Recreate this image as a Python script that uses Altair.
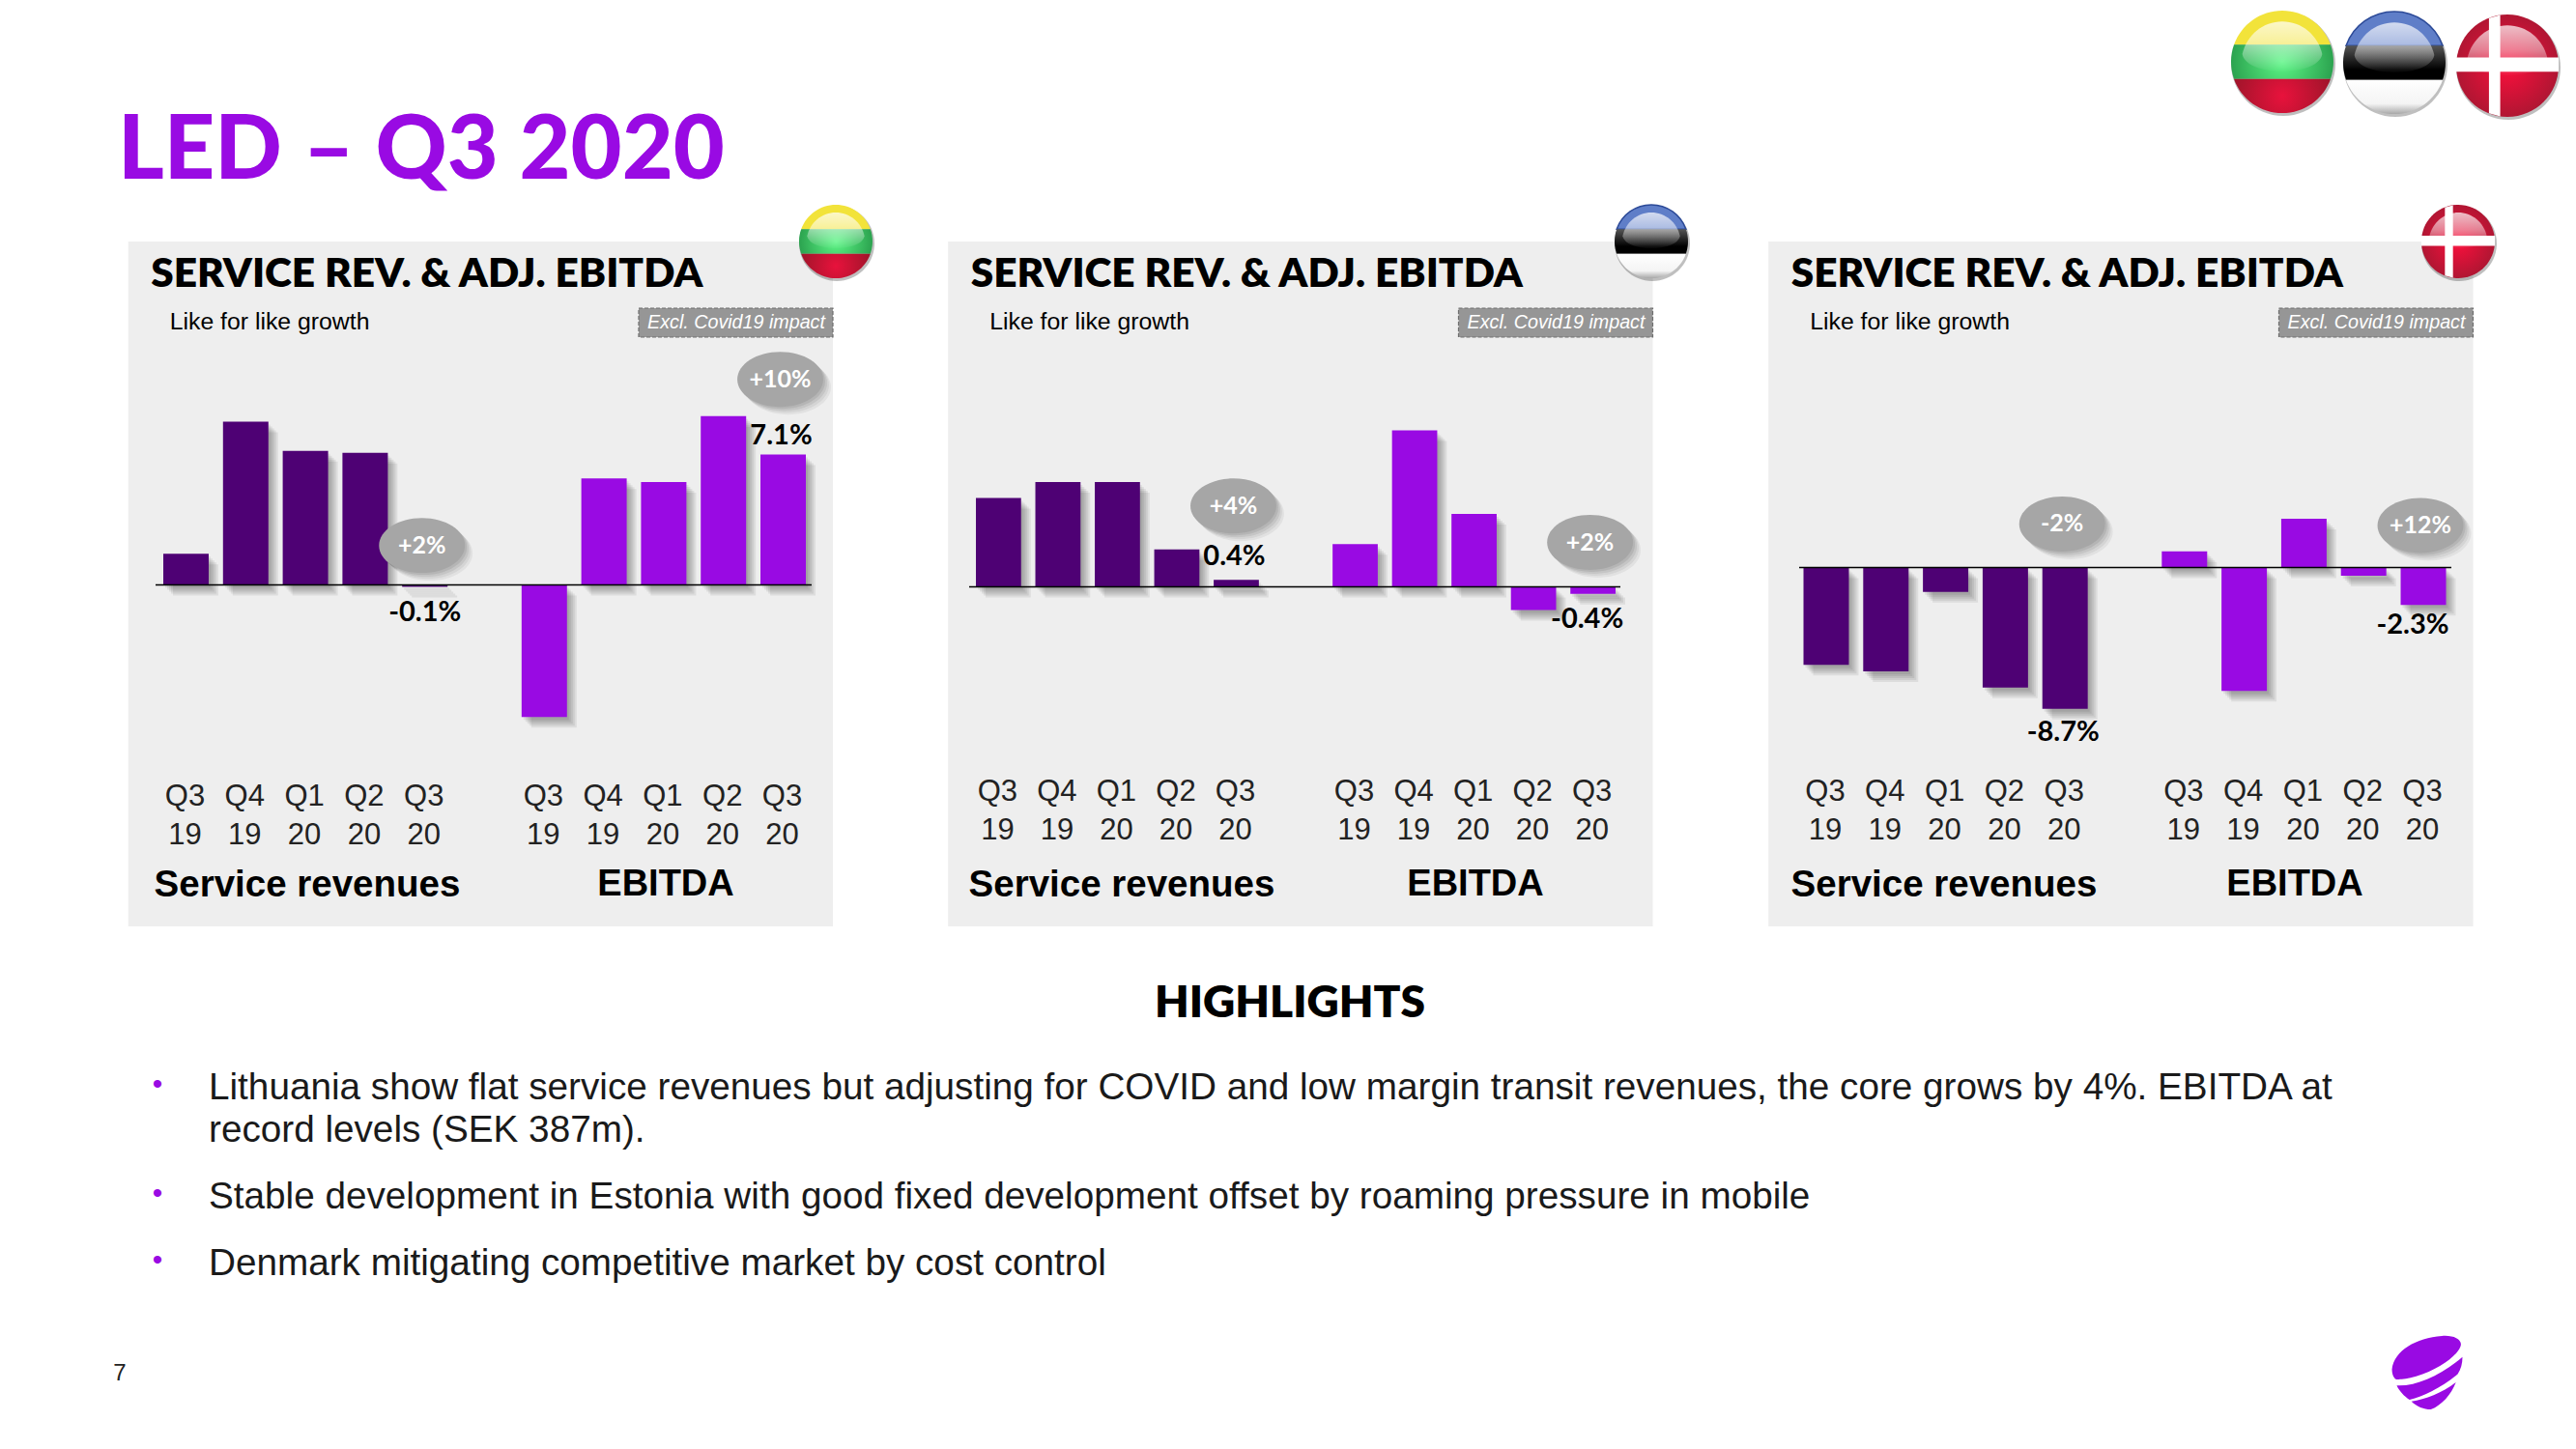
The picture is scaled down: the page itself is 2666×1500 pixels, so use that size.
import altair as alt
import pandas as pd

# ---------- data ----------
quarters = ["Q3", "Q4", "Q1", "Q2", "Q3"]
years = ["19", "19", "20", "20", "20"]
sr_slots = ["SR0", "SR1", "SR2", "SR3", "SR4"]
eb_slots = ["EB0", "EB1", "EB2", "EB3", "EB4"]
slots = sr_slots + ["gap"] + eb_slots

lt_service = [1.7, 8.9, 7.3, 7.2, -0.1]
lt_ebitda = [-7.2, 5.8, 5.6, 9.2, 7.1]
ee_service = [5.0, 5.9, 5.9, 2.1, 0.4]
ee_ebitda = [2.4, 8.8, 4.1, -1.3, -0.4]
dk_service = [-6.0, -6.4, -1.5, -7.4, -8.7]
dk_ebitda = [1.0, -7.6, 3.0, -0.5, -2.3]

lt_labels = ["-0.1%", "7.1%"]
ee_labels = ["0.4%", "-0.4%"]
dk_labels = ["-8.7%", "-2.3%"]
lt_label_levels = [-1.5, 8.15]
ee_label_levels = [1.7, -1.8]
dk_label_levels = [-10.15, -3.55]

lt_growth = ["+2%", "+10%"]
ee_growth = ["+4%", "+2%"]
dk_growth = ["-2%", "+12%"]
lt_growth_levels = [2.15, 11.2]
ee_growth_levels = [4.55, 2.5]
dk_growth_levels = [2.68, 2.59]

highlights = [
    "Lithuania show flat service revenues but adjusting for COVID and low margin transit revenues, the core grows by 4%. EBITDA at",
    "record levels (SEK 387m).",
    "Stable development in Estonia with good fixed development offset by roaming pressure in mobile",
    "Denmark mitigating competitive market by cost control",
]

# ---------- style ----------
PURPLE = "#990ae3"
DARK = "#4e0174"
PANEL = "#eeeeee"
HEAD = "Lato"
BODY = "Liberation Sans"


def px(v):
    return v - 8


layers = []


def note(text, x, y, size, font=BODY, weight="normal", color="#000000", align="left", style="normal"):
    layers.append(
        alt.Chart(pd.DataFrame({"t": [text]}))
        .mark_text(fontSize=size, font=font, fontWeight=weight, color=color, align=align,
                   baseline="middle", fontStyle=style)
        .encode(text="t:N", x=alt.value(px(x)), y=alt.value(px(y)))
    )


def shape(path, x, y, d, fill, stroke=None, sw=0):
    kw = dict(shape=path, size=d * d, fill=fill, filled=True, opacity=1, strokeWidth=sw)
    kw["stroke"] = stroke if stroke else "transparent"
    layers.append(
        alt.Chart(pd.DataFrame({"k": [0]})).mark_point(**kw)
        .encode(x=alt.value(px(x)), y=alt.value(px(y)))
    )


def lin(*stops):
    return {"gradient": "linear", "x1": 0, "y1": 0, "x2": 0, "y2": 1,
            "stops": [{"offset": o, "color": c} for o, c in stops]}


def rad(*stops):
    return {"gradient": "radial", "x1": 0.5, "y1": 0.5, "r1": 0, "x2": 0.5, "y2": 0.5, "r2": 0.65,
            "stops": [{"offset": o, "color": c} for o, c in stops]}


CIRCLE = "M-1,0 A1,1 0 1 1 1,0 A1,1 0 1 1 -1,0 Z"
TOP = "M-0.943,-0.333 A1,1 0 0 1 0.943,-0.333 Z"
MID = "M-0.943,-0.333 L0.943,-0.333 A1,1 0 0 1 0.943,0.333 L-0.943,0.333 A1,1 0 0 1 -0.943,-0.333 Z"
BOT = "M-0.943,0.333 L0.943,0.333 A1,1 0 0 1 -0.943,0.333 Z"
GLOSS = "M-0.78,-0.15 A0.8,0.82 0 0 1 0.78,-0.15 C0.7,0.3 -0.7,0.3 -0.78,-0.15 Z"
CROSS_V = "M-0.36,-0.93 L-0.14,-0.99 L-0.14,0.99 L-0.36,0.93 Z"
CROSS_H = "M-1,-0.16 L1,-0.16 L1,0.12 L-1,0.12 Z"
SHEEN = lin((0, "rgba(255,255,255,0.72)"), (0.5, "rgba(255,255,255,0.45)"), (1, "rgba(255,255,255,0.02)"))


def flag(country, x, y, d):
    shape(CIRCLE, x + 1, y + 2, d + 2, "rgba(0,0,0,0.25)")
    if country == "LT":
        shape(TOP, x, y, d, "#f2e33a")
        shape(MID, x, y, d, rad((0, "#5cf585"), (1, "#1d8a3f")))
        shape(BOT, x, y, d, rad((0, "#e8123c"), (1, "#8e1526")))
    elif country == "EE":
        shape(TOP, x, y, d, "#5f7ec8", stroke="#2c4a98", sw=1.5)
        shape(MID, x, y, d, lin((0, "#555555"), (0.7, "#000000"), (1, "#000000")))
        shape(BOT, x, y, d, lin((0, "#ffffff"), (0.7, "#f4f4f4"), (1, "#a8a8a8")))
    else:
        shape(CIRCLE, x, y, d, rad((0, "#fb0f3c"), (1, "#9a1830")))
        shape(CROSS_V, x, y, d, "#ffffff")
        shape(CROSS_H, x, y, d, "#ffffff")
    shape(GLOSS, x, y, d, SHEEN)


def panel(x_off, bar_range, base, k, flag_at, service, ebitda, labels, label_levels, growth, growth_levels,
          axis_ends, country, q_y, sr_cx, eb_cx, label_dx):
    p_left, p_right = 132.7 + x_off, 862 + x_off
    # background
    layers.append(
        alt.Chart(pd.DataFrame({"k": [0]})).mark_rect(color=PANEL, opacity=1)
        .encode(x=alt.value(px(p_left)), x2=alt.value(px(p_right)), y=alt.value(px(250)), y2=alt.value(px(959)))
    )
    xs = alt.Scale(type="band", domain=slots, range=[px(bar_range[0]), px(bar_range[1])],
                   paddingInner=0.24, paddingOuter=0)
    ys = alt.Scale(domain=[-12, 12], range=[px(base + 12 * k), px(base - 12 * k)])
    X = alt.X("slot:N", scale=xs, axis=None)
    Y = alt.Y("value:Q", scale=ys, axis=None)
    df = pd.DataFrame({"slot": sr_slots + eb_slots, "value": service + ebitda,
                       "series": ["Service revenues"] * 5 + ["EBITDA"] * 5})
    for off in (2, 4, 6, 8, 10):
        layers.append(
            alt.Chart(df).mark_bar(color="#000000", opacity=0.07, xOffset=off, yOffset=off + 1)
            .encode(x=X, y=Y)
        )
    layers.append(
        alt.Chart(df).mark_bar(opacity=1)
        .encode(x=X, y=Y, color=alt.Color("series:N", legend=None,
                                          scale=alt.Scale(domain=["Service revenues", "EBITDA"], range=[DARK, PURPLE])))
    )
    # zero line
    layers.append(
        alt.Chart(pd.DataFrame({"value": [0]})).mark_rule(color="#000000", strokeWidth=1.3)
        .encode(y=Y, x=alt.value(px(axis_ends[0])), x2=alt.value(px(axis_ends[1])))
    )
    # growth bubbles
    bub = pd.DataFrame({"slot": ["SR4", "EB4"], "value": growth_levels, "t": growth})
    ELLIPSE = "M-1,0 A1,0.64 0 1 1 1,0 A1,0.64 0 1 1 -1,0 Z"
    for off, op in ((2, 0.08), (4, 0.07), (6, 0.06), (8, 0.05)):
        layers.append(
            alt.Chart(bub).mark_point(shape=ELLIPSE, size=7900, filled=True, color="#000000", opacity=op,
                                      xOffset=off - 3, yOffset=off)
            .encode(x=X, y=Y)
        )
    layers.append(
        alt.Chart(bub).mark_point(shape=ELLIPSE, size=7900, filled=True, color="#a6a6a6", opacity=1, xOffset=-3)
        .encode(x=X, y=Y)
    )
    layers.append(
        alt.Chart(bub).mark_text(font=HEAD, fontWeight="bold", fontSize=25, color="#ffffff", baseline="middle", dx=-3)
        .encode(x=X, y=Y, text="t:N")
    )
    # data labels
    for slot, lv, t, dx in zip(["SR4", "EB4"], label_levels, labels, label_dx):
        layers.append(
            alt.Chart(pd.DataFrame({"slot": [slot], "value": [lv], "t": [t]}))
            .mark_text(font=HEAD, fontWeight="bold", fontSize=29, color="#000000", baseline="middle", dx=dx)
            .encode(x=X, y=Y, text="t:N")
        )
    # tick labels
    ticks = pd.DataFrame({"slot": sr_slots + eb_slots, "q": quarters * 2, "yr": years * 2})
    for col, yy in (("q", q_y), ("yr", q_y + 40)):
        layers.append(
            alt.Chart(ticks).mark_text(font=BODY, fontSize=31, color="#222222", baseline="middle", dx=-1)
            .encode(x=X, text=f"{col}:N", y=alt.value(px(yy)))
        )
    # text
    note("SERVICE REV. & ADJ. EBITDA", p_left + 23.5, 283.5, 42.4, font=HEAD, weight=800)
    note("Like for like growth", p_left + 43, 334, 24.8)
    note("Service revenues", sr_cx, 916, 38.5, weight="bold", align="center")
    note("EBITDA", eb_cx, 916, 38, weight="bold", align="center")
    # covid box
    layers.append(
        alt.Chart(pd.DataFrame({"k": [0]}))
        .mark_rect(color="#969696", opacity=1, stroke="#6e6e6e", strokeDash=[4, 2], strokeWidth=1.2)
        .encode(x=alt.value(px(p_right - 201)), x2=alt.value(px(p_right)), y=alt.value(px(319)), y2=alt.value(px(349)))
    )
    note("Excl. Covid19 impact", p_right - 100, 334, 19.7, color="#ffffff", align="center", style="italic")
    flag(country, flag_at[0], flag_at[1], 76)


panel(0, (169, 834), 605.5, 19.0, (865, 250), lt_service, lt_ebitda, lt_labels, lt_label_levels, lt_growth,
      lt_growth_levels, (161, 840), "LT", 825, 318, 689, (0, -2))
panel(848.5, (1010, 1672), 607.5, 18.4, (1709, 250), ee_service, ee_ebitda, ee_labels, ee_label_levels, ee_growth,
      ee_growth_levels, (1003, 1677), "EE", 820, 1161, 1527, (-2, -6))
panel(1697.5, (1866.5, 2531.5), 587.5, 16.8, (2544, 250), dk_service, dk_ebitda, dk_labels, dk_label_levels, dk_growth,
      dk_growth_levels, (1862, 2537), "DK", 820, 2012, 2375, (-2, -11))

# heading
note("LED \u2013 Q3 2020", 122, 158, 91.5, font=HEAD, weight=900, color=PURPLE)
note("HIGHLIGHTS", 1335, 1038.5, 46, font=HEAD, weight=800, align="center")

# flags top right
flag("LT", 2362, 64, 106)
flag("EE", 2478, 65, 106)
flag("DK", 2595, 68, 106)

# bullets and text
for txt, yy in zip(highlights, [1126, 1170, 1239, 1308]):
    note(txt, 216, yy, 38.7, color="#1a1a1a")
for yy in [1123, 1236, 1305]:
    note("\u2022", 163, yy, 30, color=PURPLE, align="center")
note("7", 124, 1422, 24, color="#222222", align="center")

# logo
LOGO_A = "M-.96,-.09 C-.9,-.6 -.3,-.95 .4,-1 C.8,-1.03 .98,-.85 .9,-.7 C.8,-.45 .3,-.08 -.3,.1 C-.6,.18 -.8,.2 -.87,.17 C-.93,.12 -.96,.02 -.96,-.09 Z"
LOGO_B = "M-.83,.35 C-.3,.38 .4,.05 .96,-.43 C.96,-.25 .92,-.1 .83,.04 C.4,.4 -.1,.65 -.48,.74 C-.62,.65 -.76,.5 -.83,.35 Z"
LOGO_C = "M-.43,.78 C-.05,.72 .4,.55 .78,.26 C.65,.6 .4,.88 .1,1 C-.1,1 -.28,.92 -.43,.78 Z"
for path in (LOGO_A, LOGO_B, LOGO_C):
    shape(path, 2512, 1421, 76, PURPLE)

chart = (
    alt.layer(*layers)
    .resolve_scale(x="independent", y="independent")
    .properties(width=2650, height=1484, padding=0, background="#ffffff", autosize=alt.AutoSizeParams(type="none"))
    .configure_view(stroke=None)
)
chart.save("out.html", embed_options={"renderer": "svg", "actions": False})
